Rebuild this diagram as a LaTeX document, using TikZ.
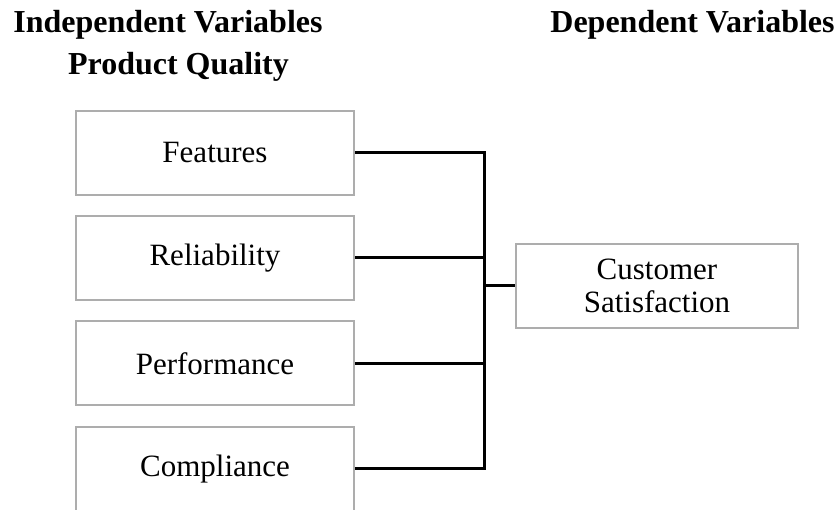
\documentclass[tikz,border=0pt]{standalone}
\usepackage{fontspec}
\setmainfont{Liberation Serif}
\begin{document}
\begin{tikzpicture}[x=1pt,y=-1pt,
  varbox/.style={draw=black!32,line width=2pt,fill=white,rectangle,
    minimum width=278pt,minimum height=84pt,inner sep=0pt,
    font=\fontsize{31}{33}\selectfont,align=center},
  head/.style={font=\fontsize{32}{34}\selectfont\bfseries,inner sep=0pt,anchor=base},
  conn/.style={line width=3pt,black}]
\useasboundingbox (0,0) rectangle (839,510);
\clip (0,0) rectangle (839,510);
\node[head] (h1) at (168,33) {Independent Variables};
\node[head] (h2) at (178.5,75) {Product Quality};
\node[head] (h3) at (692.5,33) {Dependent Variables};
\node[varbox] (f) at (215,153) {Features};
\node[varbox] (r) at (215,258) {Reliability};
\node[varbox] (p) at (215,363.5) {Performance};
\node[varbox] (m) at (215,469) {Compliance};
\node[varbox,minimum width=282pt] (c) at (657,286) {Customer\\Satisfaction};
\coordinate (j) at (484,286);
\draw[conn] (f.east) -| (j);
\draw[conn] (r.east) -| (j);
\draw[conn] (p.east) -| (j);
\draw[conn] (m.east) -| (j);
\draw[conn] (j) -- (c.west);
\end{tikzpicture}
\end{document}
